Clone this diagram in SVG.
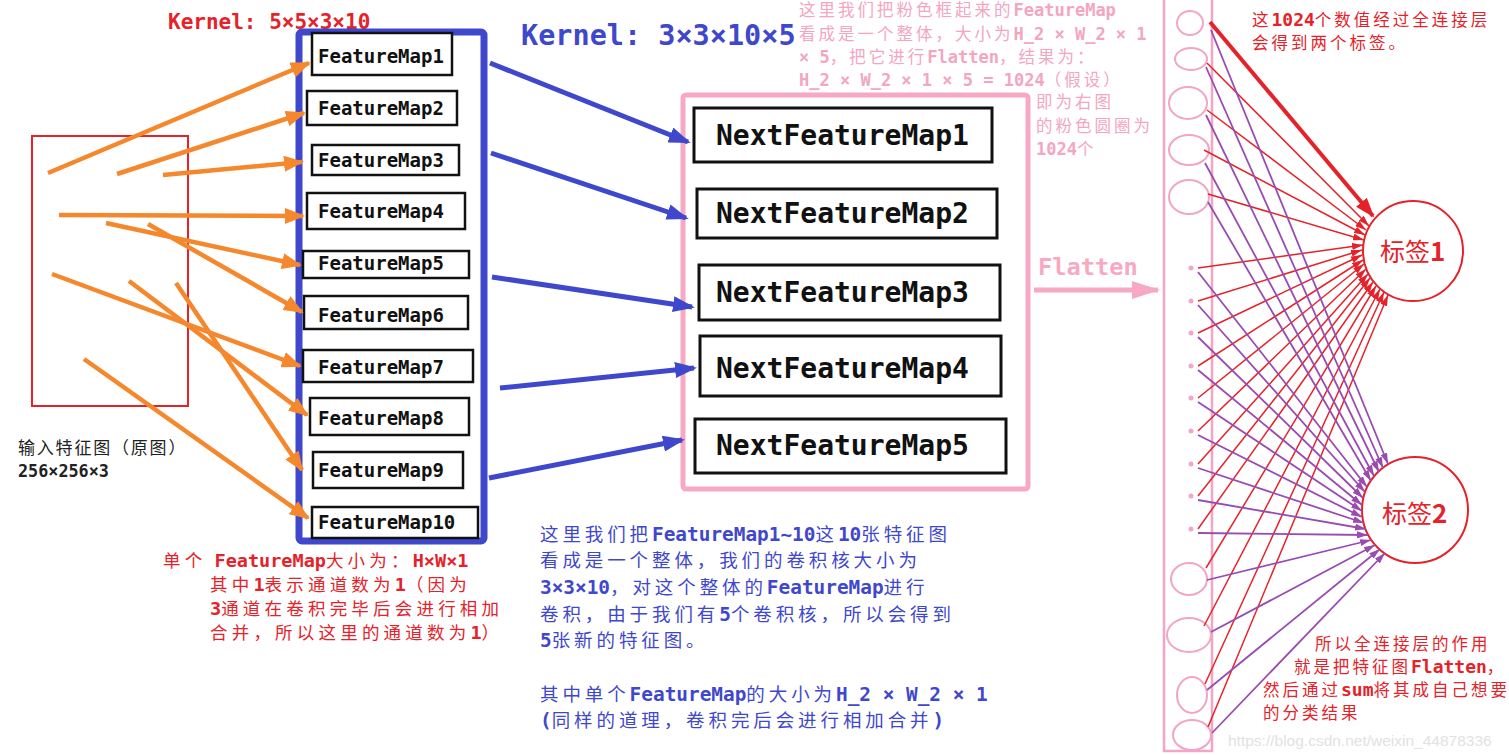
<svg xmlns="http://www.w3.org/2000/svg" width="1509" height="755" viewBox="0 0 1509 755">
<defs>
<style>
.m{font-family:"DejaVu Sans Mono","Liberation Mono",monospace;font-weight:bold;letter-spacing:0}
.c{font-family:"Noto Sans CJK SC","Noto Sans CJK JP",sans-serif;font-weight:normal}
.box{fill:#fff;stroke:#111;stroke-width:2.5}
.nbox{fill:#fff;stroke:#111;stroke-width:3}
.fm{font-family:"DejaVu Sans Mono","Liberation Mono",monospace;font-weight:bold;font-size:19px;fill:#111}
.nfm{font-family:"DejaVu Sans Mono","Liberation Mono",monospace;font-weight:bold;font-size:28px;fill:#111}
.tb{fill:#3f48cc}
.tb .c{font-size:18.5px;letter-spacing:3.9px}
.tb .m{font-size:19.4px}
.tr{fill:#e5222a}
.tr .c{font-size:17.5px;letter-spacing:4.2px}
.tr .m{font-size:18.5px}
.tp{fill:#f4a5c1}
.tp .c{font-size:16.5px;letter-spacing:3px}
.tp .m{font-size:17px}
.tq{fill:#e5222a}
.tq .c{font-size:16.5px;letter-spacing:3px}
.tq .m{font-size:18px}
.tk{fill:#222}
.or{stroke:#f5872d;stroke-width:4.5;fill:none;marker-end:url(#ao)}
.bu{stroke:#3f48cc;stroke-width:5;fill:none;marker-end:url(#ab)}
.rl{stroke:#e5222a;stroke-width:1.5;fill:none;marker-end:url(#ar)}
.pl{stroke:#9a4bb0;stroke-width:1.8;fill:none;marker-end:url(#ap)}
.pc{fill:#fff;stroke:#f2a5c4;stroke-width:2}
.dot{fill:#f2a5c4}
.lab{fill:#fff;stroke:#e5222a;stroke-width:2}
</style>
<marker id="ao" viewBox="0 0 20 16" refX="18" refY="8" markerWidth="20" markerHeight="16" markerUnits="userSpaceOnUse" orient="auto"><path d="M0,0 L20,8 L0,16 z" fill="#f5872d"/></marker>
<marker id="ab" viewBox="0 0 22 16" refX="19" refY="8" markerWidth="22" markerHeight="16" markerUnits="userSpaceOnUse" orient="auto"><path d="M0,0 L22,8 L0,16 z" fill="#3f48cc"/></marker>
<marker id="ar" viewBox="0 0 11 7" refX="11" refY="3.5" markerWidth="11" markerHeight="7" markerUnits="userSpaceOnUse" orient="auto"><path d="M0,0 L11,3.5 L0,7 z" fill="#e5222a"/></marker>
<marker id="arb" viewBox="0 0 20 14" refX="18" refY="7" markerWidth="20" markerHeight="14" markerUnits="userSpaceOnUse" orient="auto"><path d="M0,0 L20,7 L0,14 z" fill="#e5222a"/></marker>
<marker id="ap" viewBox="0 0 11 7" refX="11" refY="3.5" markerWidth="11" markerHeight="7" markerUnits="userSpaceOnUse" orient="auto"><path d="M0,0 L11,3.5 L0,7 z" fill="#9a4bb0"/></marker>
<marker id="af" viewBox="0 0 28 18" refX="26" refY="9" markerWidth="28" markerHeight="18" markerUnits="userSpaceOnUse" orient="auto"><path d="M0,0 L28,9 L0,18 z" fill="#f7a8c2"/></marker>
</defs>
<rect width="1509" height="755" fill="#fff"/>

<!-- input image -->
<g id="input">
<rect x="32" y="136" width="156" height="270" fill="none" stroke="#e5222a" stroke-width="2"/>
<text x="18" y="454" class="tk"><tspan class="c" style="font-size:17px;letter-spacing:1.8px">输入特征图（原图）</tspan></text>
<text x="18" y="477" class="tk m" style="font-size:16.8px">256×256×3</text>
</g>

<g id="kernel1"><text x="168" y="29" class="m" style="font-size:21px;fill:#e5222a">Kernel: 5×5×3×10</text></g>
<g id="kernel2"><text x="521" y="45" class="m" style="font-size:28.5px;fill:#3f48cc">Kernel: 3×3×10×5</text></g>

<!-- feature maps group -->
<g id="featuremaps">
<rect x="299" y="32" width="185" height="509" rx="3" fill="none" stroke="#3f48cc" stroke-width="7"/>
<g id="fm1"><rect class="box" x="312" y="33" width="140" height="42"/><text class="fm" x="318" y="63">FeatureMap1</text></g>
<g id="fm2"><rect class="box" x="307" y="91" width="150" height="34"/><text class="fm" x="318" y="115">FeatureMap2</text></g>
<g id="fm3"><rect class="box" x="312" y="145" width="147" height="30"/><text class="fm" x="318" y="167">FeatureMap3</text></g>
<g id="fm4"><rect class="box" x="307" y="193" width="158" height="36"/><text class="fm" x="318" y="218">FeatureMap4</text></g>
<g id="fm5"><rect class="box" x="303" y="251" width="166" height="27"/><text class="fm" x="318" y="270">FeatureMap5</text></g>
<g id="fm6"><rect class="box" x="304" y="296" width="164" height="33"/><text class="fm" x="318" y="322">FeatureMap6</text></g>
<g id="fm7"><rect class="box" x="303" y="350" width="170" height="32"/><text class="fm" x="318" y="374">FeatureMap7</text></g>
<g id="fm8"><rect class="box" x="310" y="398" width="159" height="37"/><text class="fm" x="318" y="425">FeatureMap8</text></g>
<g id="fm9"><rect class="box" x="313" y="452" width="150" height="36"/><text class="fm" x="318" y="477">FeatureMap9</text></g>
<g id="fm10"><rect class="box" x="312" y="507" width="166" height="31"/><text class="fm" x="318" y="529">FeatureMap10</text></g>
</g>

<!-- next feature maps -->
<g id="nextmaps">
<rect x="683" y="95" width="345" height="394" rx="3" fill="none" stroke="#f7a8c4" stroke-width="5"/>
<g id="nfm1"><rect class="nbox" x="694" y="108" width="298" height="54"/><text class="nfm" x="716" y="145">NextFeatureMap1</text></g>
<g id="nfm2"><rect class="nbox" x="697" y="189" width="300" height="49"/><text class="nfm" x="716" y="223">NextFeatureMap2</text></g>
<g id="nfm3"><rect class="nbox" x="699" y="265" width="301" height="55"/><text class="nfm" x="716" y="302">NextFeatureMap3</text></g>
<g id="nfm4"><rect class="nbox" x="700" y="336" width="301" height="60"/><text class="nfm" x="716" y="378">NextFeatureMap4</text></g>
<g id="nfm5"><rect class="nbox" x="695" y="419" width="311" height="54"/><text class="nfm" x="716" y="455">NextFeatureMap5</text></g>
</g>

<!-- pink note -->
<g id="note-flatten" class="tp">
<text x="799" y="16"><tspan class="c">这里我们把粉色框起来的</tspan><tspan class="m">FeatureMap</tspan></text>
<text x="799" y="40"><tspan class="c">看成是一个整体，大小为</tspan><tspan class="m">H_2 × W_2 × 1</tspan></text>
<text x="799" y="63"><tspan class="m">× 5</tspan><tspan class="c">，把它进行</tspan><tspan class="m">Flatten</tspan><tspan class="c">，结果为：</tspan></text>
<text x="799" y="86"><tspan class="m">H_2 × W_2 × 1 × 5 = 1024</tspan><tspan class="c">（假设）</tspan></text>
<text x="1036" y="108"><tspan class="c">即为右图</tspan></text>
<text x="1036" y="132"><tspan class="c">的粉色圆圈为</tspan></text>
<text x="1036" y="155"><tspan class="m">1024</tspan><tspan class="c">个</tspan></text>
</g>

<g id="flatten-label"><text x="1038" y="275" class="m" style="font-size:23.7px;fill:#f7a8c2">Flatten</text></g>

<!-- red note under feature maps -->
<g id="note-fm" class="tr">
<text x="163" y="567"><tspan class="c">单个 </tspan><tspan class="m">FeatureMap</tspan><tspan class="c">大小为：</tspan><tspan class="m">H×W×1</tspan></text>
<text x="210" y="591"><tspan class="c">其中</tspan><tspan class="m">1</tspan><tspan class="c">表示通道数为</tspan><tspan class="m">1</tspan><tspan class="c">（因为</tspan></text>
<text x="210" y="615"><tspan class="m">3</tspan><tspan class="c">通道在卷积完毕后会进行相加</tspan></text>
<text x="210" y="639"><tspan class="c">合并，所以这里的通道数为</tspan><tspan class="m">1</tspan><tspan class="c">）</tspan></text>
</g>

<!-- blue note -->
<g id="note-conv" class="tb">
<text x="540" y="541"><tspan class="c">这里我们把</tspan><tspan class="m">FeatureMap1~10</tspan><tspan class="c">这</tspan><tspan class="m">10</tspan><tspan class="c">张特征图</tspan></text>
<text x="540" y="567"><tspan class="c">看成是一个整体，我们的卷积核大小为</tspan></text>
<text x="540" y="594"><tspan class="m">3×3×10</tspan><tspan class="c">，对这个整体的</tspan><tspan class="m">FeatureMap</tspan><tspan class="c">进行</tspan></text>
<text x="540" y="621"><tspan class="c">卷积，由于我们有</tspan><tspan class="m">5</tspan><tspan class="c">个卷积核，所以会得到</tspan></text>
<text x="540" y="647"><tspan class="m">5</tspan><tspan class="c">张新的特征图。</tspan></text>
<text x="540" y="701"><tspan class="c">其中单个</tspan><tspan class="m">FeatureMap</tspan><tspan class="c">的大小为</tspan><tspan class="m">H_2 × W_2 × 1</tspan></text>
<text x="540" y="727"><tspan class="m">(</tspan><tspan class="c">同样的道理，卷积完后会进行相加合并</tspan><tspan class="m">)</tspan></text>
</g>

<!-- flattened vector -->
<g id="vector">
<rect x="1164" y="-5" width="48" height="756" fill="none" stroke="#f2a5c4" stroke-width="2.5"/>
<ellipse class="pc" cx="1190" cy="23" rx="13" ry="12"/>
<ellipse class="pc" cx="1191" cy="59" rx="16" ry="11"/>
<ellipse class="pc" cx="1188" cy="103" rx="19" ry="16"/>
<ellipse class="pc" cx="1189" cy="150" rx="20" ry="15"/>
<ellipse class="pc" cx="1189" cy="197" rx="20" ry="17"/>
<circle class="dot" cx="1191" cy="268" r="2.5"/>
<circle class="dot" cx="1191" cy="301" r="2.5"/>
<circle class="dot" cx="1191" cy="333" r="2.5"/>
<circle class="dot" cx="1191" cy="366" r="2.5"/>
<circle class="dot" cx="1191" cy="398" r="2.5"/>
<circle class="dot" cx="1191" cy="431" r="2.5"/>
<circle class="dot" cx="1191" cy="464" r="2.5"/>
<circle class="dot" cx="1191" cy="496" r="2.5"/>
<circle class="dot" cx="1191" cy="529" r="2.5"/>
<ellipse class="pc" cx="1189" cy="579" rx="18" ry="16"/>
<ellipse class="pc" cx="1189" cy="635" rx="22" ry="17"/>
<ellipse class="pc" cx="1192" cy="695" rx="15" ry="18"/>
<ellipse class="pc" cx="1192" cy="735" rx="19" ry="15"/>
</g>

<g id="label1"><circle class="lab" cx="1413" cy="251" r="50"/><text x="1380" y="261" fill="#e5222a"><tspan class="c" style="font-size:25px">标签</tspan><tspan class="c" style="font-size:26px;font-weight:bold">1</tspan></text></g>
<g id="label2"><circle class="lab" cx="1415" cy="510" r="53"/><text x="1382" y="523" fill="#e5222a"><tspan class="c" style="font-size:25px">标签</tspan><tspan class="c" style="font-size:26px;font-weight:bold">2</tspan></text></g>

<g id="note-fc-top" class="tq">
<text x="1252" y="26"><tspan class="c">这</tspan><tspan class="m">1024</tspan><tspan class="c">个数值经过全连接层</tspan></text>
<text x="1252" y="49"><tspan class="c">会得到两个标签。</tspan></text>
</g>
<g id="note-fc-bottom" class="tq">
<text x="1315" y="650"><tspan class="c">所以全连接层的作用</tspan></text>
<text x="1294" y="673"><tspan class="c">就是把特征图</tspan><tspan class="m">Flatten</tspan><tspan class="c">，</tspan></text>
<text x="1263" y="696"><tspan class="c">然后通过</tspan><tspan class="m">sum</tspan><tspan class="c">将其成自己想要</tspan></text>
<text x="1263" y="719"><tspan class="c">的分类结果</tspan></text>
</g>

<!-- connectors -->
<g id="connectors">
<line class="or" x1="48" y1="173" x2="309" y2="63"/>
<line class="or" x1="117" y1="174" x2="304" y2="113"/>
<line class="or" x1="163" y1="175" x2="302" y2="162"/>
<line class="or" x1="59" y1="215" x2="303" y2="216"/>
<line class="or" x1="106" y1="223" x2="300" y2="265"/>
<line class="or" x1="148" y1="224" x2="302" y2="312"/>
<line class="or" x1="52" y1="274" x2="300" y2="366"/>
<line class="or" x1="129" y1="281" x2="307" y2="415"/>
<line class="or" x1="176" y1="283" x2="302" y2="470"/>
<line class="or" x1="84" y1="359" x2="308" y2="518"/>

<line class="bu" x1="490" y1="63" x2="688" y2="142"/>
<line class="bu" x1="491" y1="153" x2="686" y2="218"/>
<line class="bu" x1="492" y1="277" x2="692" y2="307"/>
<line class="bu" x1="500" y1="388" x2="694" y2="368"/>
<line class="bu" x1="489" y1="478" x2="682" y2="440"/>

<line x1="1034" y1="290" x2="1158" y2="290" stroke="#f7a8c2" stroke-width="5" marker-end="url(#af)"/>

<line x1="1210" y1="22" x2="1373" y2="216" stroke="#e5222a" stroke-width="4" marker-end="url(#arb)"/>
<line class="rl" x1="1207" y1="63" x2="1369" y2="226"/>
<line class="rl" x1="1207" y1="110" x2="1366" y2="230"/>
<line class="rl" x1="1204" y1="150" x2="1365" y2="235"/>
<line class="rl" x1="1208" y1="194" x2="1364" y2="240"/>
<line class="rl" x1="1198" y1="268" x2="1363" y2="245"/>
<line class="rl" x1="1198" y1="301" x2="1362" y2="250"/>
<line class="rl" x1="1198" y1="333" x2="1362" y2="255"/>
<line class="rl" x1="1198" y1="366" x2="1363" y2="260"/>
<line class="rl" x1="1198" y1="398" x2="1364" y2="264"/>
<line class="rl" x1="1198" y1="431" x2="1366" y2="269"/>
<line class="rl" x1="1198" y1="464" x2="1368" y2="274"/>
<line class="rl" x1="1198" y1="496" x2="1370" y2="278"/>
<line class="rl" x1="1198" y1="529" x2="1373" y2="282"/>
<line class="rl" x1="1206" y1="568" x2="1376" y2="286"/>
<line class="rl" x1="1204" y1="626" x2="1380" y2="289"/>
<line class="rl" x1="1205" y1="684" x2="1384" y2="292"/>
<line class="rl" x1="1208" y1="727" x2="1388" y2="295"/>

<line class="pl" x1="1211" y1="30" x2="1388" y2="464"/>
<line class="pl" x1="1206" y1="67" x2="1383" y2="468"/>
<line class="pl" x1="1206" y1="115" x2="1379" y2="472"/>
<line class="pl" x1="1205" y1="163" x2="1374" y2="476"/>
<line class="pl" x1="1208" y1="202" x2="1371" y2="481"/>
<line class="pl" x1="1198" y1="272" x2="1367" y2="487"/>
<line class="pl" x1="1198" y1="305" x2="1365" y2="492"/>
<line class="pl" x1="1198" y1="337" x2="1363" y2="498"/>
<line class="pl" x1="1198" y1="370" x2="1362" y2="505"/>
<line class="pl" x1="1198" y1="402" x2="1362" y2="511"/>
<line class="pl" x1="1198" y1="435" x2="1362" y2="517"/>
<line class="pl" x1="1198" y1="468" x2="1364" y2="523"/>
<line class="pl" x1="1198" y1="500" x2="1366" y2="529"/>
<line class="pl" x1="1198" y1="533" x2="1368" y2="535"/>
<line class="pl" x1="1207" y1="580" x2="1371" y2="540"/>
<line class="pl" x1="1211" y1="632" x2="1375" y2="545"/>
<line class="pl" x1="1207" y1="690" x2="1380" y2="549"/>
<line class="pl" x1="1212" y1="733" x2="1385" y2="553"/>
</g>

<g id="watermark"><text x="1228" y="746" style="font-family:'Liberation Sans',Arial,sans-serif;font-size:15.5px;fill:#e2e2e2">https://blog.csdn.net/weixin_44878336</text></g>
</svg>
